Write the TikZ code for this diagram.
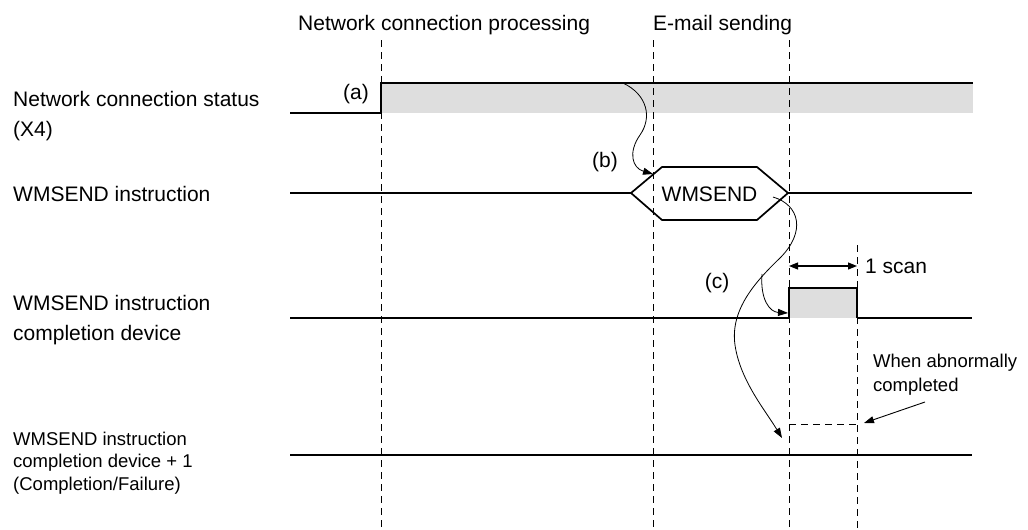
\documentclass[tikz,border=0pt]{standalone}
\usepackage{fontspec}
\setmainfont{Liberation Sans}
\usetikzlibrary{arrows.meta}
\begin{document}
\begin{tikzpicture}[x=1pt,y=-1pt,
  lbl/.style={font=\fontsize{21}{30}\selectfont, inner sep=0pt, align=left},
  small/.style={font=\fontsize{18.5}{22.5}\selectfont, inner sep=0pt, align=left},
  smallb/.style={font=\fontsize{18.5}{24}\selectfont, inner sep=0pt, align=left},
  guide/.style={dash pattern=on 7pt off 5pt, line width=0.9pt},
  thinline/.style={line width=1.3pt},
  thickline/.style={line width=2.6pt},
  edgeline/.style={line width=1.7pt},
  curvearrow/.style={line width=0.8pt, -{Triangle[length=10pt,width=7pt]}},
  scanarrow/.style={line width=1.1pt, {Triangle[length=9pt,width=7pt]}-{Triangle[length=9pt,width=7pt]}},
  shade/.style={fill=black!13}
]
\useasboundingbox (0,0) rectangle (1028,530);

% shaded areas
\fill[shade] (381,83) rectangle (973,113);
\fill[shade] (789,288) rectangle (857,318);

% guide lines
\coordinate (g1t) at (381,40); \coordinate (g1b) at (381,530);
\coordinate (g2t) at (653,40); \coordinate (g2b) at (653,530);
\coordinate (g3t) at (789,40); \coordinate (g3b) at (789,530);
\coordinate (g4t) at (857,245); \coordinate (g4b) at (857,530);
\draw[guide] (g1t) -- (g1b);
\draw[guide] (g2t) -- (g2b);
\draw[guide] (g3t) -- (g3b);
\draw[guide] (g4t) -- (g4b);

% top labels
\node[lbl, anchor=base west] (tNet) at (298,30) {Network connection processing};
\node[lbl, anchor=base west] (tMail) at (653,30) {E-mail sending};

% row labels
\node[lbl, anchor=west] (l1) at (13,116) {Network connection status\\(X4)};
\node[lbl, anchor=west] (l2) at (13,194) {WMSEND instruction};
\node[lbl, anchor=west] (l3) at (13,320) {WMSEND instruction\\completion device};
\node[small, anchor=west] (l4) at (13,463) {WMSEND instruction\\completion device + 1\\(Completion/Failure)};

% row 1
\coordinate (r1a) at (290,113); \coordinate (r1b) at (381,113);
\coordinate (r1c) at (381,83); \coordinate (r1d) at (973,83);
\draw[thinline] (r1a) -- (r1b) -- (r1c) -- (r1d);
\node[lbl, anchor=east] (la) at (369,94) {(a)};

% row 2
\coordinate (r2a) at (290,193);
\coordinate (h1) at (631,193); \coordinate (h2) at (662,167);
\coordinate (h3) at (757,167); \coordinate (h4) at (788,193);
\coordinate (h5) at (757,220); \coordinate (h6) at (662,220);
\coordinate (r2b) at (972,193);
\draw[thickline] (r2a) -- (h1);
\draw[thickline] (h4) -- (r2b);
\draw[edgeline, line join=miter] (h1) -- (h2) -- (h3) -- (h4) -- (h5) -- (h6) -- cycle;
\node[lbl] (wm) at (709.5,194) {WMSEND};
\node[lbl] (lb) at (605,162) {(b)};

% row 3
\coordinate (r3a) at (290,318); \coordinate (p1) at (789,318);
\coordinate (p2) at (789,288); \coordinate (p3) at (857,288);
\coordinate (p4) at (857,318); \coordinate (r3b) at (972,318);
\draw[thinline] (r3a) -- (p1);
\draw[edgeline] (p1) -- (p2) -- (p3) -- (p4);
\draw[thinline] (p4) -- (r3b);
\node[lbl] (lc) at (717,283) {(c)};

% 1 scan
\coordinate (s1) at (789,266); \coordinate (s2) at (857,266);
\draw[scanarrow] (s1) -- (s2);
\node[lbl, anchor=west] (scan) at (865,266) {1 scan};

% row 4
\coordinate (r4a) at (290,455); \coordinate (r4b) at (972,455);
\draw[thickline] (r4a) -- (r4b);
\coordinate (ab1) at (789,424); \coordinate (ab2) at (857,424);
\draw[guide] (ab1) -- (ab2);
\node[smallb, anchor=west] (abn) at (873,375) {When abnormally\\completed};
\coordinate (abs) at (925,402); \coordinate (abt) at (864,423);
\draw[curvearrow, line width=0.9pt] (abs) -- (abt);

% arrow (b)
\coordinate (bs) at (623,83); \coordinate (bt) at (653,174);
\draw[curvearrow] (bs) .. controls (648,95) and (652,118) .. (640,135)
  .. controls (628,152) and (632,168) .. (bt);

% arrow (c)
\coordinate (cs) at (773,197); \coordinate (cm) at (762,274);
\coordinate (ct1) at (782,438); \coordinate (ct2) at (788,313);
\draw[curvearrow] (cs) .. controls (800,205) and (806,232) .. (780,258)
  .. controls (755,282) and (730,310) .. (735,345)
  .. controls (740,380) and (765,410) .. (ct1);
\draw[curvearrow] (cm) .. controls (760,300) and (770,312) .. (ct2);
\end{tikzpicture}
\end{document}
